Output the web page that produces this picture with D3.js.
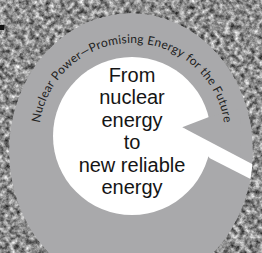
<!DOCTYPE html>
<html>
<head>
<meta charset="utf-8">
<script src="https://cdn.jsdelivr.net/npm/d3@7"></script>
<style>
  html, body { margin: 0; padding: 0; background: #888; }
  svg { display: block; }
</style>
</head>
<body>
<div id="chart"></div>
<script>
'use strict';

var ringTitle = 'Nuclear Power\u2014Promising Energy for the Future';
var centerLines = ['From', 'nuclear', 'energy', 'to', 'new reliable', 'energy'];
// [degrees clockwise from 12 o'clock, radius] around the white disc centre
var notchPoints = [[80, 51], [76, 80], [76, 112], [105, 112]];
var tailPoints = [[80, 51], [105.5, 146], [111, 150], [106, 81]];
var titleSpan = [-82, 82];

var width = 262, height = 253;
var disc = { x: 132, y: 136, r: 79 };
var plate = { x: 131, y: 151, rx: 122, ry: 138 };

var svg = d3.select('#chart').append('svg')
  .attr('width', width)
  .attr('height', height);

var defs = svg.append('defs');

var granite = defs.append('filter')
  .attr('id', 'granite')
  .attr('x', 0).attr('y', 0)
  .attr('width', '100%').attr('height', '100%')
  .attr('color-interpolation-filters', 'sRGB');
granite.append('feTurbulence')
  .attr('type', 'fractalNoise')
  .attr('baseFrequency', 0.2)
  .attr('numOctaves', 3)
  .attr('seed', 7);
granite.append('feColorMatrix')
  .attr('type', 'matrix')
  .attr('values', '1.15 0 0 0 -0.02  1.15 0 0 0 -0.02  1.15 0 0 0 -0.02  0 0 0 0 1');

defs.append('clipPath')
  .attr('id', 'plateClip')
  .append('ellipse')
  .attr('cx', plate.x).attr('cy', plate.y)
  .attr('rx', plate.rx).attr('ry', plate.ry);

svg.append('rect')
  .attr('width', width)
  .attr('height', height)
  .attr('filter', 'url(#granite)');

// little dark tick at the left edge
svg.append('rect')
  .attr('x', 0).attr('y', 25)
  .attr('width', 4).attr('height', 5)
  .attr('fill', '#111');

var plateG = svg.append('g').attr('clip-path', 'url(#plateClip)');

plateG.append('ellipse')
  .attr('cx', plate.x).attr('cy', plate.y)
  .attr('rx', plate.rx).attr('ry', plate.ry)
  .attr('fill', '#a9a9ab');

plateG.append('circle')
  .attr('cx', disc.x).attr('cy', disc.y)
  .attr('r', disc.r)
  .attr('fill', '#fff');

var angle = d3.scaleLinear().domain([0, 360]).range([0, 2 * Math.PI]);

function polar(p) {
  var a = angle(p[0]);
  return [disc.x + p[1] * Math.sin(a), disc.y - p[1] * Math.cos(a)];
}

var outline = d3.line();

plateG.append('path')
  .attr('d', outline(notchPoints.map(polar)) + 'Z')
  .attr('fill', '#a9a9ab');

plateG.append('path')
  .attr('d', outline(tailPoints.map(polar)) + 'Z')
  .attr('fill', '#fff');

// curved title: one glyph per text element, spread over titleSpan
var rt = 93;
var chars = ringTitle.split('');

var titleG = svg.append('g')
  .attr('font-family', 'Lato, sans-serif')
  .attr('font-size', 12)
  .attr('fill', '#222')
  .attr('text-anchor', 'middle');

var glyphs = titleG.selectAll('text')
  .data(chars)
  .enter()
  .append('text')
  .text(function(d) { return d; });

var widths = [];
glyphs.each(function(d) {
  widths.push(d === ' ' ? 3.2 : this.getComputedTextLength());
});

var arcLen = angle(titleSpan[1] - titleSpan[0]) * rt;
var gap = (arcLen - d3.sum(widths)) / (chars.length - 1);
var along = [], pos = 0;
widths.forEach(function(w) {
  along.push(pos + w / 2);
  pos += w + gap;
});

var arcAngle = d3.scaleLinear()
  .domain([0, arcLen])
  .range(titleSpan);

glyphs
  .attr('transform', function(d, i) {
    var deg = arcAngle(along[i]);
    var p = polar([deg, rt]);
    return 'translate(' + p[0] + ',' + p[1] + ') rotate(' + deg + ')';
  })
  .filter(function(d) { return d === ' '; })
  .remove();

var lineY = d3.scaleLinear()
  .domain([0, centerLines.length - 1])
  .range([82, 194]);

svg.append('g')
  .attr('font-family', '"Liberation Sans", Arial, sans-serif')
  .attr('font-size', 20)
  .attr('fill', '#151515')
  .attr('text-anchor', 'middle')
  .selectAll('text')
  .data(centerLines)
  .enter()
  .append('text')
  .attr('x', disc.x)
  .attr('y', function(d, i) { return lineY(i); })
  .text(function(d) { return d; });
</script>
</body>
</html>
